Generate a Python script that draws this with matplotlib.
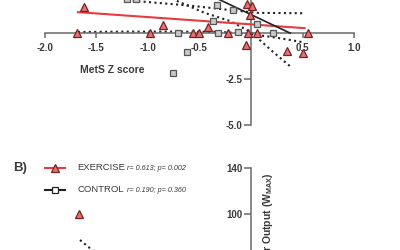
import matplotlib
matplotlib.use("Agg")
import matplotlib.pyplot as plt
from matplotlib.lines import Line2D

plt.rcParams['font.family'] = ['Liberation Sans', 'DejaVu Sans']
plt.rcParams['mathtext.fontset'] = 'custom'
plt.rcParams['mathtext.bf'] = 'Liberation Sans:bold'
plt.rcParams['mathtext.rm'] = 'Liberation Sans'

# --- panel A: MetS Z score change ---
ex_x = [-1.62, -1.69, -0.98, -0.85, -0.56, -0.50, -0.42, -0.22, -0.04, 0.01,
        -0.01, -0.03, 0.06, 0.55, -0.05, 0.35, 0.50]
ex_y = [1.42, 0.0, 0.0, 0.45, 0.0, 0.0, 0.33, 0.0, 1.58, 1.47,
        0.98, 0.0, 0.0, 0.0, -0.65, -0.98, -1.08]
ctl_x = [-1.20, -1.12, -0.33, -0.17, -0.37, 0.06, -0.71, -0.32, -0.13, 0.21, -0.62, -0.76]
ctl_y = [1.85, 1.85, 1.52, 1.27, 0.65, 0.49, 0.0, 0.0, 0.05, 0.0, -1.03, -2.17]

ex_fit_x = [-1.68, 0.52]
ex_fit_y = [1.14, 0.27]
ctl_fit_x = [-0.45, 0.38]
ctl_fit_y = [2.2, 0.0]

ex_lo_x = [-1.68, -1.2, -0.75, -0.3, 0.02, 0.25, 0.50]
ex_lo_y = [0.06, 0.08, 0.08, 0.07, -0.07, -0.25, -0.49]
ex_hi_x = [-1.2, -0.6, -0.2, 0.07, 0.52]
ex_hi_y = [1.78, 1.5, 1.25, 1.10, 1.08]
ctl_lo_x = [-0.72, -0.45, -0.2, 0.0, 0.2, 0.4]
ctl_lo_y = [1.75, 1.1, 0.65, 0.05, -0.95, -1.9]

x_ticks = [-2.0, -1.5, -1.0, -0.5, 0.5, 1.0]
ya_ticks = [-5.0, -2.5]

# --- panel B: peak power output (only the top is visible) ---
exb_x = [-1.67]
exb_y = [100]
exb_band_x = [-1.66, -1.54, -1.40]
exb_band_y = [77.4, 68.5, 58.0]
yb_ticks = [100, 140]

RED_FACE = '#e07474'
RED_EDGE = '#7a1f1f'
RED_LINE = '#e83a3f'
SQ_FACE = '#c9c9c9'
SQ_EDGE = '#555555'
AX_COL = '#6a6a6a'
TXT = '#3a3a3a'

W, H = 400, 250
fig = plt.figure(figsize=(4, 2.5), dpi=100)
xlim = ((0 - 251) / 103, (400 - 251) / 103)

ax1 = fig.add_axes([0, 1 - 130 / H, 1, 130 / H])
ax1.set_xlim(*xlim)
ax1.set_ylim(1.8 - 130 / 18.4, 1.8)

for sp in ['top', 'right']:
    ax1.spines[sp].set_visible(False)
ax1.spines['left'].set_position(('data', 0))
ax1.spines['bottom'].set_position(('data', 0))
ax1.spines['bottom'].set_bounds(-2.0, 1.0)
ax1.spines['left'].set_bounds(-5.0, 3.0)
for sp in ['left', 'bottom']:
    ax1.spines[sp].set_color(AX_COL)
    ax1.spines[sp].set_linewidth(1.1)
ax1.patch.set_visible(False)

ax1.set_xticks(x_ticks)
ax1.set_xticklabels([f"{v:.1f}" for v in x_ticks])
ax1.set_yticks(ya_ticks)
ax1.set_yticklabels([f"{v:.1f}" for v in ya_ticks])
ax1.tick_params(axis='x', direction='out', length=3.8, width=1.1, color=AX_COL,
                pad=3.5, labelsize=7, labelcolor=TXT)
ax1.tick_params(axis='y', direction='out', length=5, width=1.1, color=AX_COL,
                pad=1, labelsize=7, labelcolor=TXT)
for lab in ax1.get_xticklabels() + ax1.get_yticklabels():
    lab.set_fontweight('bold')

dot = dict(color='#222222', lw=1.5, ls=(0, (1, 1.6)), zorder=2)
ax1.plot(ex_lo_x, ex_lo_y, **dot)
ax1.plot(ex_hi_x, ex_hi_y, **dot)
ax1.plot(ctl_lo_x, ctl_lo_y, **dot)
ax1.plot(ex_fit_x, ex_fit_y, color=RED_LINE, lw=1.5, zorder=2.6)
ax1.plot(ctl_fit_x, ctl_fit_y, color='#222222', lw=1.2, zorder=2.6)
ax1.plot(ctl_x, ctl_y, ls='none', marker='s', ms=4.6, mfc=SQ_FACE, mec=SQ_EDGE,
         mew=0.9, zorder=3)
ax1.plot(ex_x, ex_y, ls='none', marker='^', ms=6, mfc=RED_FACE, mec=RED_EDGE,
         mew=0.9, zorder=3.1)

ax1.text(-1.35, -2.0, "MetS Z score", ha='center', va='center', fontsize=7.5,
         fontweight='bold', color=TXT)

# panel B axes
ax2 = fig.add_axes([0, 0, 1, 115 / H])
ax2.set_xlim(*xlim)
ax2.set_ylim(100 - 36 / 46 * 40, 100 - 36 / 46 * 40 + 115 / 46 * 40)
for sp in ['top', 'right', 'bottom']:
    ax2.spines[sp].set_visible(False)
ax2.spines['left'].set_position(('data', 0))
ax2.spines['left'].set_bounds(40, 140)
ax2.spines['left'].set_color(AX_COL)
ax2.spines['left'].set_linewidth(1.1)
ax2.patch.set_visible(False)
ax2.set_xticks([])
ax2.set_yticks(yb_ticks)
ax2.set_yticklabels([str(v) for v in yb_ticks])
ax2.tick_params(axis='y', direction='out', length=5, width=1.1, color=AX_COL,
                pad=1, labelsize=7, labelcolor=TXT)
for lab in ax2.get_yticklabels():
    lab.set_fontweight('bold')
ax2.plot(exb_band_x, exb_band_y, **dot)
ax2.plot(exb_x, exb_y, ls='none', marker='^', ms=6, mfc=RED_FACE, mec=RED_EDGE,
         mew=0.9, zorder=3)

ax2.text(0.165, 140 - 4 / 46 * 40, r"Peak Power Output (W$_\mathbf{MAX}$)",
         rotation=90, ha='center', va='top', fontsize=7.5, fontweight='bold',
         color=TXT)

# legend drawn by hand in figure pixels
def fx(px):
    return px / W


def fy(py):
    return 1 - py / H


fig.text(fx(13), fy(168), "B)", fontsize=9.5, fontweight='bold', color=TXT,
         ha='left', va='center')

legend_rows = [
    ("EXERCISE", "r= 0.613; p= 0.002", RED_LINE, '^', RED_FACE, RED_EDGE, 6, 168),
    ("CONTROL", "r= 0.190; p= 0.360", '#222222', 's', 'white', '#222222', 4.6, 190),
]
for name, stat, lc, mk, mf, me, ms, py in legend_rows:
    fig.add_artist(Line2D([fx(45), fx(55), fx(65)], [fy(py)] * 3, color=lc, lw=1.5,
                          marker=mk, markevery=[1], ms=ms, mfc=mf, mec=me, mew=0.9))
    fig.text(fx(77), fy(py), name, fontsize=6.8, color=TXT, ha='left', va='center')
    fig.text(fx(127), fy(py), stat, fontsize=5.2, style='italic', color=TXT,
             ha='left', va='center')

fig.savefig("out.png", dpi=100)
